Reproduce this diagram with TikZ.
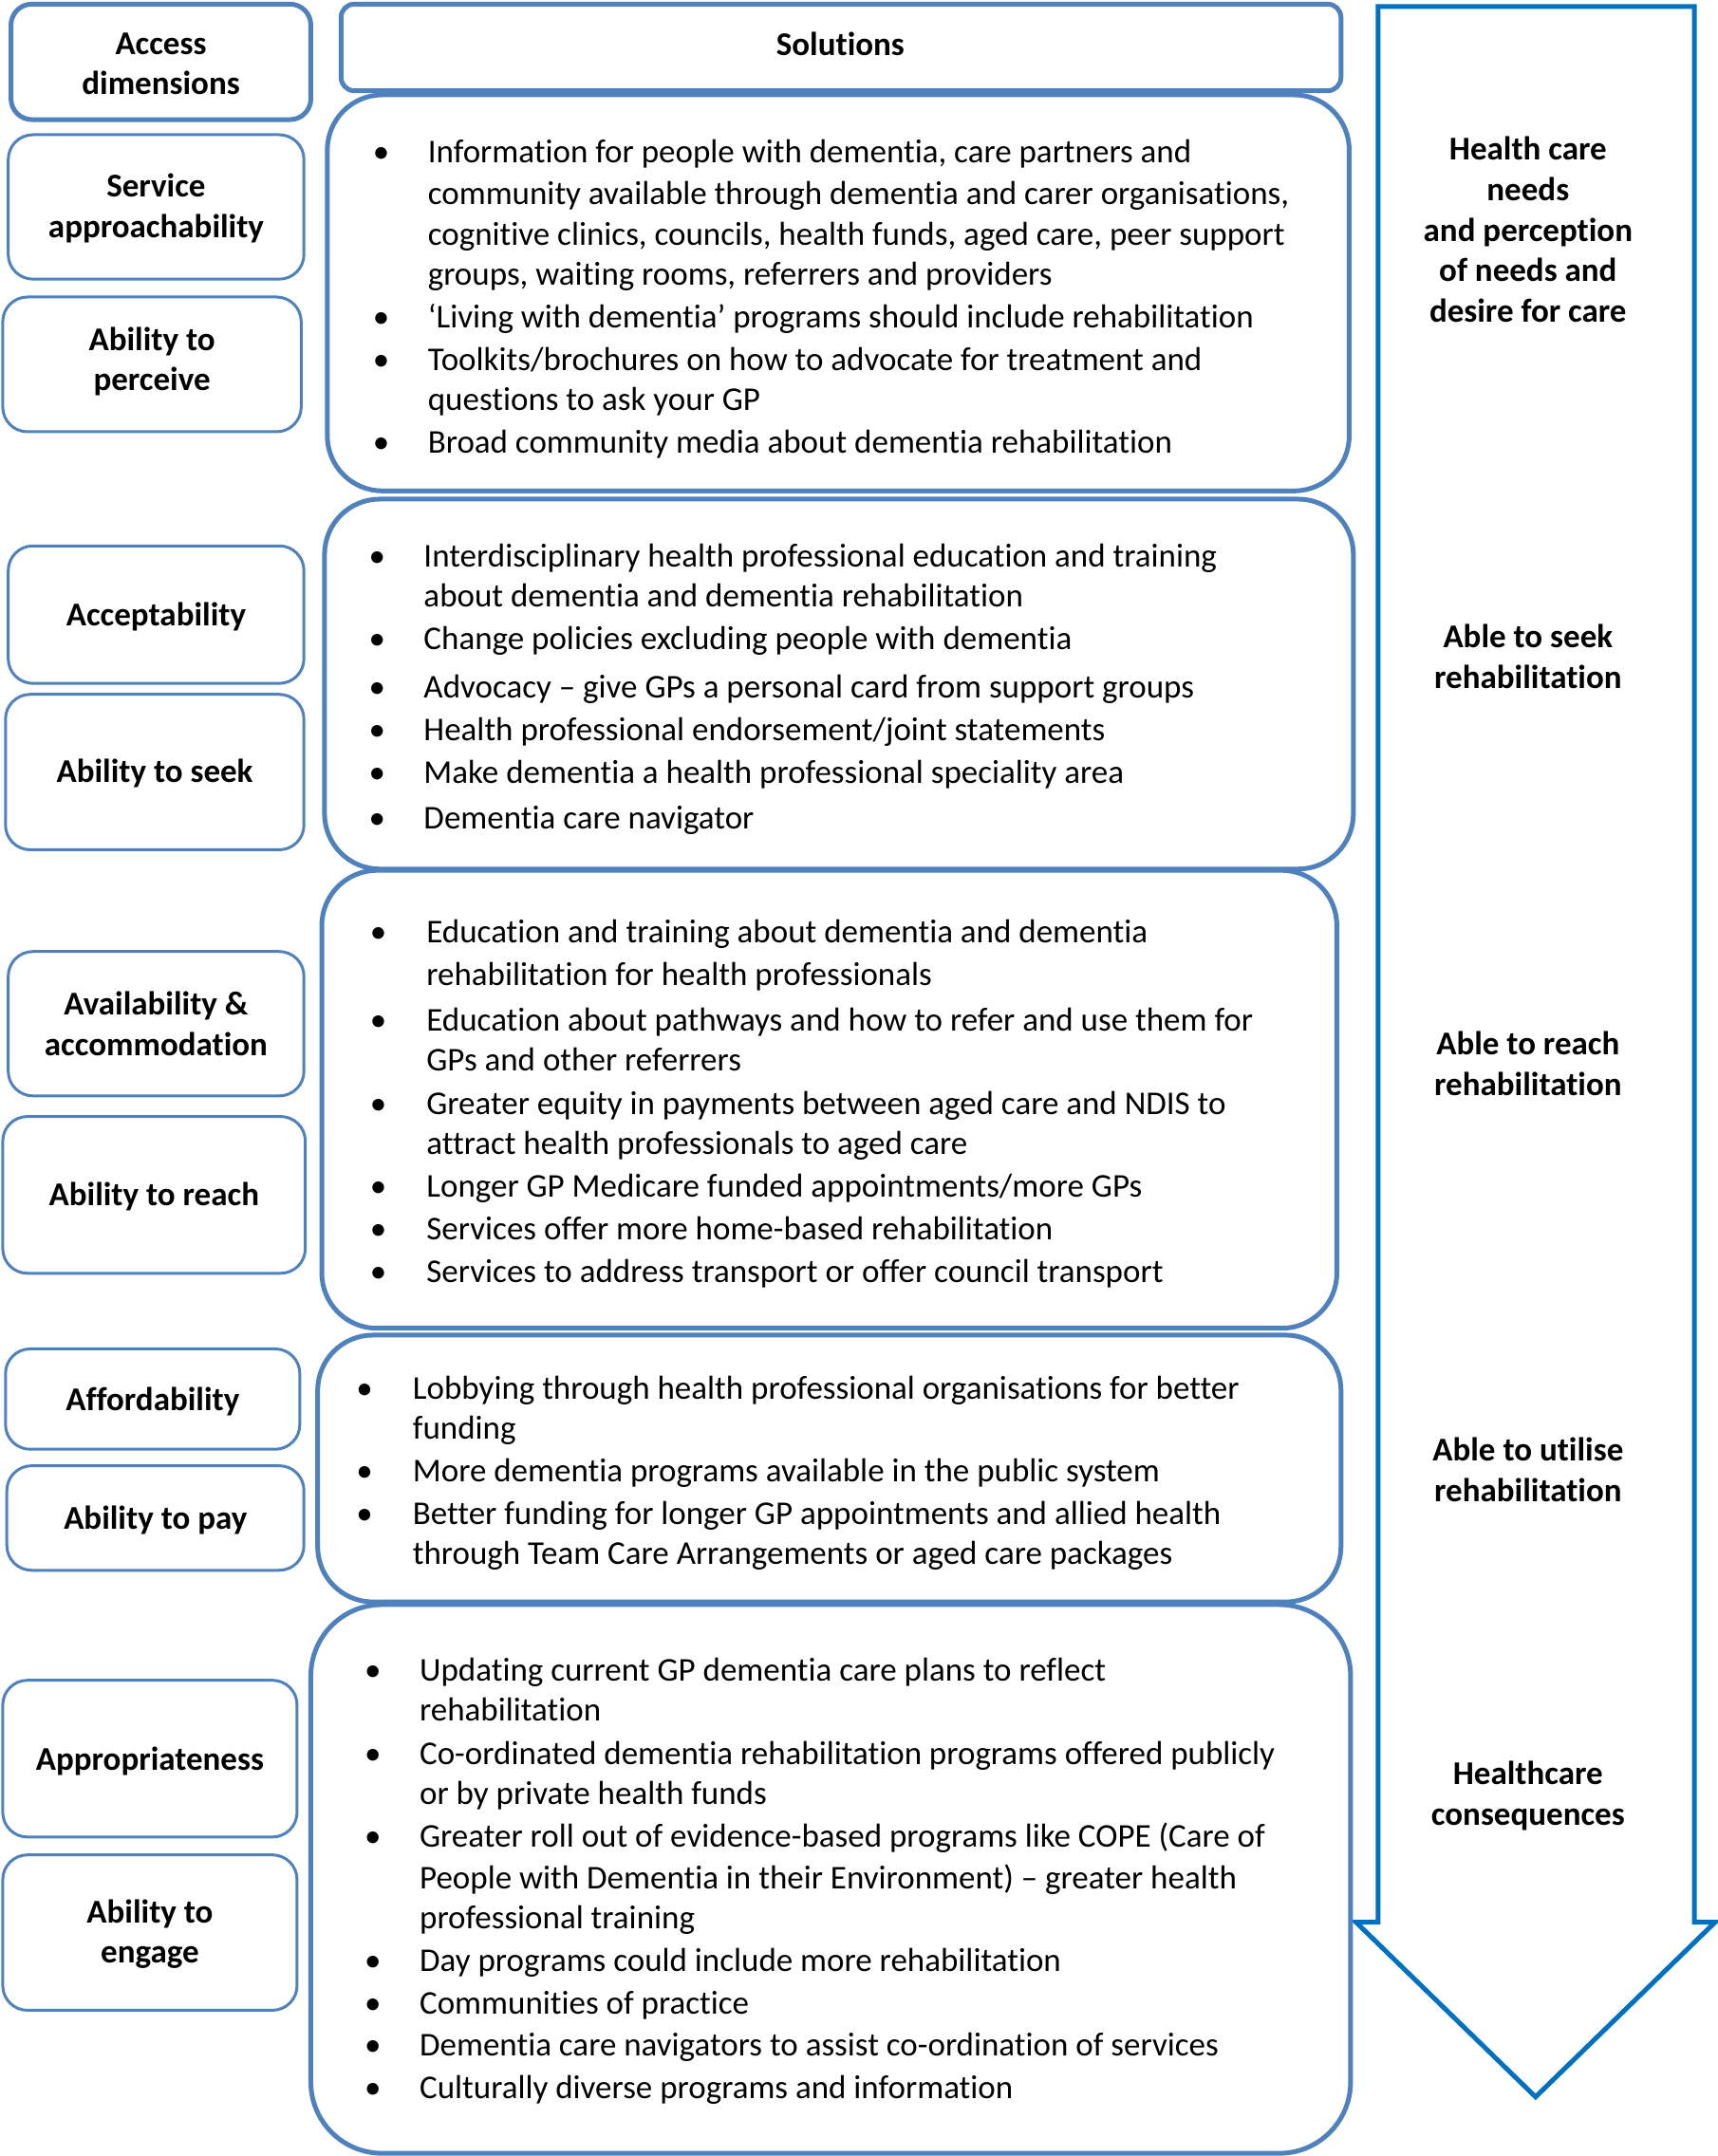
\documentclass[tikz,border=0pt]{standalone}
\usepackage{fontspec}
\setmainfont{Carlito}[Ligatures={NoCommon}]
\definecolor{boxblue}{RGB}{79,129,189}
\definecolor{arrowblue}{RGB}{0,112,192}
\newcommand\lbox[7]{\node[lbox, minimum width={(#4-#2)*1.449pt}, minimum height={(#5-#3)*1.449pt}] (#1) at ({(#2+#4)/2},{(#3+#5)/2}) {};
  \node[ltxt] (#1t) at ({(#2+#4)/2},{(#3+#5)/2+#7}) {#6};}
\newcommand\bbox[5]{\node[bigbox, minimum width={(#4-#2)*1.449pt}, minimum height={(#5-#3)*1.449pt}] (#1) at ({(#2+#4)/2},{(#3+#5)/2}) {};}
\newcommand\tl[4]{\node[ln] (#1) at (#2,{#3+8.5}) {#4};}
\newcommand\bu[3]{\node[ln] (#1) at (#2,{#3+8.5}) {\textbullet};}
\begin{document}
\begin{tikzpicture}[x=1.449pt,y=-1.449pt,
  lbox/.style={draw=boxblue, line width=3pt, rounded corners=26pt, inner sep=0pt},
  ltxt/.style={inner sep=0pt, align=center, font=\fontsize{35}{42.5}\selectfont\bfseries},
  bigbox/.style={draw=boxblue, line width=5pt, rounded corners=58pt, inner sep=0pt},
  ln/.style={anchor=base west, inner sep=0pt, font=\fontsize{35}{42}\selectfont},
  rlab/.style={align=center, font=\fontsize{35}{42.8}\selectfont\bfseries, inner sep=0pt},
  arr/.style={draw=arrowblue, line width=5pt, line join=miter}]
\useasboundingbox (0,0) rectangle (1249,1568);
% arrow
\draw[arr] (1002,4.8) -- (1232,4.8) -- (1232,1398) -- (1247,1398) -- (1116.5,1525) -- (986,1398) -- (1002,1398) -- cycle;
% left boxes
\node[lbox, line width=5pt, rounded corners=22pt, minimum width={(226-8)*1.449pt}, minimum height={(87-3)*1.449pt}] (acc) at (117,45) {};
\node[ltxt] (acct) at (117,46.5) {Access\\dimensions};
\lbox{sa}{6}{98}{221}{203}{Service\\approachability}{1}
\lbox{ap}{2}{216}{219}{314}{Ability to\\perceive}{-2}
\lbox{acb}{6}{397}{221}{497}{Acceptability}{1.5}
\lbox{as}{4}{505}{221}{618}{Ability to seek}{1}
\lbox{av}{6}{692}{221}{797}{Availability \&\\accommodation}{0}
\lbox{ar}{2}{812}{222}{926}{Ability to reach}{1.5}
\lbox{af}{4}{981}{218}{1054}{Affordability}{1.5}
\lbox{apay}{5}{1066}{221}{1142}{Ability to pay}{1.5}
\lbox{appr}{2}{1222}{216}{1336}{Appropriateness}{2}
\lbox{ae}{2}{1349}{216}{1462}{Ability to\\engage}{1}
% header
\node[draw=boxblue, line width=5pt, rounded corners=14pt, minimum width={(975-248)*1.449pt}, minimum height={(66-3)*1.449pt}] (sol) at ({(248+975)/2},{(3+66)/2}) {};
\node[font=\fontsize{35}{42}\selectfont\bfseries, inner sep=0pt] (soltxt) at (611,32) {Solutions};
% big boxes
\bbox{b1}{238}{69}{981}{357}
\bbox{b2}{236}{363}{984}{632}
\bbox{b3}{234}{633}{972}{966}
\bbox{b4}{231}{971}{975}{1165}
\node[bigbox, rounded corners=75pt, minimum width={(982-226)*1.449pt}, minimum height={(1566-1167)*1.449pt}] (b5) at ({(226+982)/2},{(1167+1566)/2}) {};
% box 1
\bu{b1u1}{271}{110}
\tl{b1l1}{311}{110}{Information for people with dementia, care partners and}
\tl{b1l2}{311}{140}{community available through dementia and carer organisations,}
\tl{b1l3}{311}{170}{cognitive clinics, councils, health funds, aged care, peer support}
\tl{b1l4}{311}{199}{groups, waiting rooms, referrers and providers}
\bu{b1u2}{271}{230}
\tl{b1l5}{311}{230}{‘Living with dementia’ programs should include rehabilitation}
\bu{b1u3}{271}{261}
\tl{b1l6}{311}{261}{Toolkits/brochures on how to advocate for treatment and}
\tl{b1l7}{311}{290}{questions to ask your GP}
\bu{b1u4}{271}{321}
\tl{b1l8}{311}{321}{Broad community media about dementia rehabilitation}
% box 2
\bu{b2u1}{268}{404}
\tl{b2l1}{308}{404}{Interdisciplinary health professional education and training}
\tl{b2l2}{308}{433}{about dementia and dementia rehabilitation}
\bu{b2u2}{268}{464}
\tl{b2l3}{308}{464}{Change policies excluding people with dementia}
\bu{b2u3}{268}{499}
\tl{b2l4}{308}{499}{Advocacy – give GPs a personal card from support groups}
\bu{b2u4}{268}{530}
\tl{b2l5}{308}{530}{Health professional endorsement/joint statements}
\bu{b2u5}{268}{561}
\tl{b2l6}{308}{561}{Make dementia a health professional speciality area}
\bu{b2u6}{268}{594}
\tl{b2l7}{308}{594}{Dementia care navigator}
% box 3
\bu{b3u1}{269}{677}
\tl{b3l1}{310}{677}{Education and training about dementia and dementia}
\tl{b3l2}{310}{708}{rehabilitation for health professionals}
\bu{b3u2}{269}{741}
\tl{b3l3}{310}{741}{Education about pathways and how to refer and use them for}
\tl{b3l4}{310}{770}{GPs and other referrers}
\bu{b3u3}{269}{802}
\tl{b3l5}{310}{802}{Greater equity in payments between aged care and NDIS to}
\tl{b3l6}{310}{831}{attract health professionals to aged care}
\bu{b3u4}{269}{862}
\tl{b3l7}{310}{862}{Longer GP Medicare funded appointments/more GPs}
\bu{b3u5}{269}{893}
\tl{b3l8}{310}{893}{Services offer more home-based rehabilitation}
\bu{b3u6}{269}{924}
\tl{b3l9}{310}{924}{Services to address transport or offer council transport}
% box 4
\bu{b4u1}{259}{1009}
\tl{b4l1}{300}{1009}{Lobbying through health professional organisations for better}
\tl{b4l2}{300}{1038}{funding}
\bu{b4u2}{259}{1069}
\tl{b4l3}{300}{1069}{More dementia programs available in the public system}
\bu{b4u3}{259}{1100}
\tl{b4l4}{300}{1100}{Better funding for longer GP appointments and allied health}
\tl{b4l5}{300}{1129}{through Team Care Arrangements or aged care packages}
% box 5
\bu{b5u1}{265}{1214}
\tl{b5l1}{305}{1214}{Updating current GP dementia care plans to reflect}
\tl{b5l2}{305}{1243}{rehabilitation}
\bu{b5u2}{265}{1275}
\tl{b5l3}{305}{1275}{Co-ordinated dementia rehabilitation programs offered publicly}
\tl{b5l4}{305}{1304}{or by private health funds}
\bu{b5u3}{265}{1335}
\tl{b5l5}{305}{1335}{Greater roll out of evidence-based programs like COPE (Care of}
\tl{b5l6}{305}{1365}{People with Dementia in their Environment) – greater health}
\tl{b5l7}{305}{1394}{professional training}
\bu{b5u4}{265}{1425}
\tl{b5l8}{305}{1425}{Day programs could include more rehabilitation}
\bu{b5u5}{265}{1456}
\tl{b5l9}{305}{1456}{Communities of practice}
\bu{b5u6}{265}{1487}
\tl{b5l10}{305}{1487}{Dementia care navigators to assist co-ordination of services}
\bu{b5u7}{265}{1518}
\tl{b5l11}{305}{1518}{Culturally diverse programs and information}
% right labels
\node[rlab] (r1) at (1111,167) {Health care\\needs\\and perception\\of needs and\\desire for care};
\node[rlab] (r2) at (1111,477.5) {Able to seek\\rehabilitation};
\node[rlab] (r3) at (1111,773.5) {Able to reach\\rehabilitation};
\node[rlab] (r4) at (1111,1069) {Able to utilise\\rehabilitation};
\node[rlab] (r5) at (1111,1306) {Healthcare\\consequences};
\end{tikzpicture}
\end{document}
